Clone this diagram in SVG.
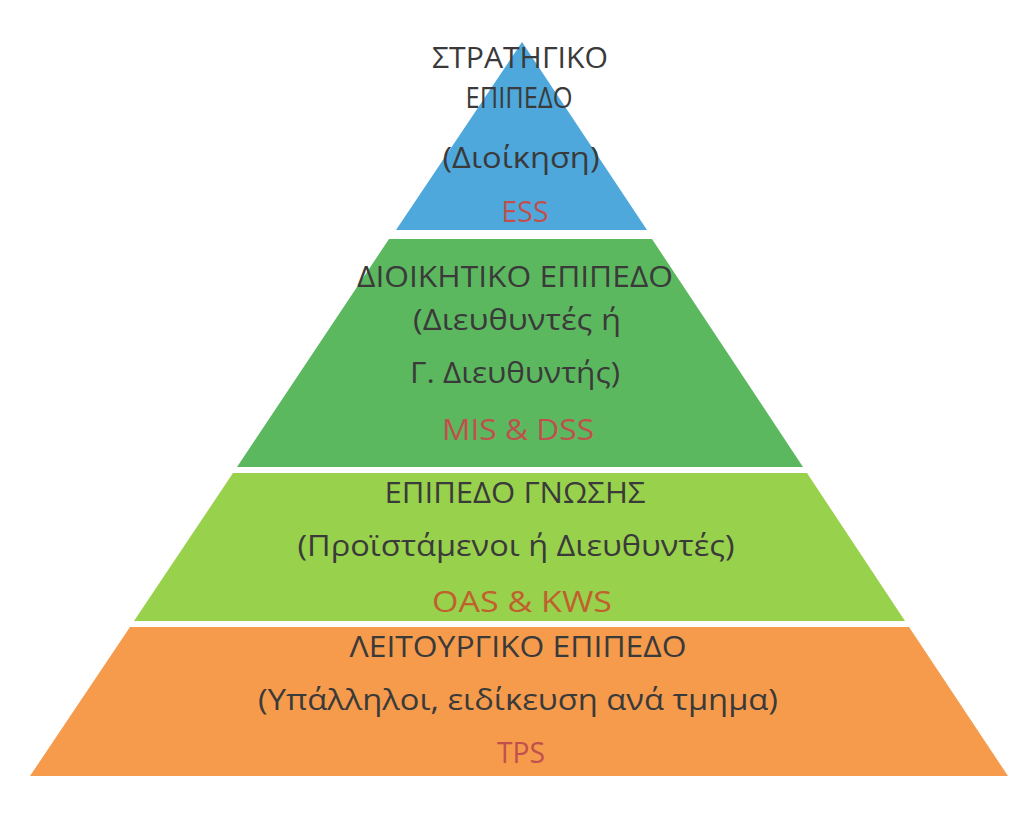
<svg xmlns="http://www.w3.org/2000/svg" width="1024" height="820" viewBox="0 0 1024 820">
  <style>
    .t { font-family: "Open Sans", "Noto Sans", "DejaVu Sans", sans-serif; font-size: 30px; fill: #3a3a3a; text-anchor: middle; }
    .r { fill: #c0504d; }
    .o { fill: #c0602e; }
  </style>
  <rect x="0" y="0" width="1024" height="820" fill="#ffffff"/>
  <g id="level-strategic">
    <polygon points="522,42 647,230 396,230" fill="#4ea8dc"/>
    <text class="t" x="520" y="68" textLength="176" lengthAdjust="spacingAndGlyphs">ΣΤΡΑΤΗΓΙΚΟ</text>
    <text class="t" x="519" y="108" textLength="107" lengthAdjust="spacingAndGlyphs">ΕΠΙΠΕΔΟ</text>
    <text class="t" x="521" y="168" textLength="157" lengthAdjust="spacingAndGlyphs">(Διοίκηση)</text>
    <text class="t r" x="525" y="222" textLength="47" lengthAdjust="spacingAndGlyphs">ESS</text>
  </g>
  <g id="level-management">
    <polygon points="389,239 652,239 803,467 237,467" fill="#5cb85f"/>
    <text class="t" x="515" y="287" textLength="316" lengthAdjust="spacingAndGlyphs">ΔΙΟΙΚΗΤΙΚΟ ΕΠΙΠΕΔΟ</text>
    <text class="t" x="517" y="330" textLength="208" lengthAdjust="spacingAndGlyphs">(Διευθυντές ή</text>
    <text class="t" x="515" y="383" textLength="210" lengthAdjust="spacingAndGlyphs">Γ. Διευθυντής)</text>
    <text class="t r" x="518" y="440" textLength="152" lengthAdjust="spacingAndGlyphs">MIS &amp; DSS</text>
  </g>
  <g id="level-knowledge">
    <polygon points="233,473 807,473 905,621 134,621" fill="#98d14c"/>
    <text class="t" x="515" y="503" textLength="261" lengthAdjust="spacingAndGlyphs">ΕΠΙΠΕΔΟ ΓΝΩΣΗΣ</text>
    <text class="t" x="516" y="556" textLength="437" lengthAdjust="spacingAndGlyphs">(Προϊστάμενοι ή Διευθυντές)</text>
    <text class="t o" x="522" y="612" textLength="180" lengthAdjust="spacingAndGlyphs">OAS &amp; KWS</text>
  </g>
  <g id="level-operational">
    <polygon points="130,627 909,627 1008,776 30,776" fill="#f69a4c"/>
    <text class="t" x="518" y="657" textLength="337" lengthAdjust="spacingAndGlyphs">ΛΕΙΤΟΥΡΓΙΚΟ ΕΠΙΠΕΔΟ</text>
    <text class="t" x="518" y="710" textLength="520" lengthAdjust="spacingAndGlyphs">(Υπάλληλοι, ειδίκευση ανά τμημα)</text>
    <text class="t r" x="521" y="763" textLength="48" lengthAdjust="spacingAndGlyphs">TPS</text>
  </g>
</svg>
